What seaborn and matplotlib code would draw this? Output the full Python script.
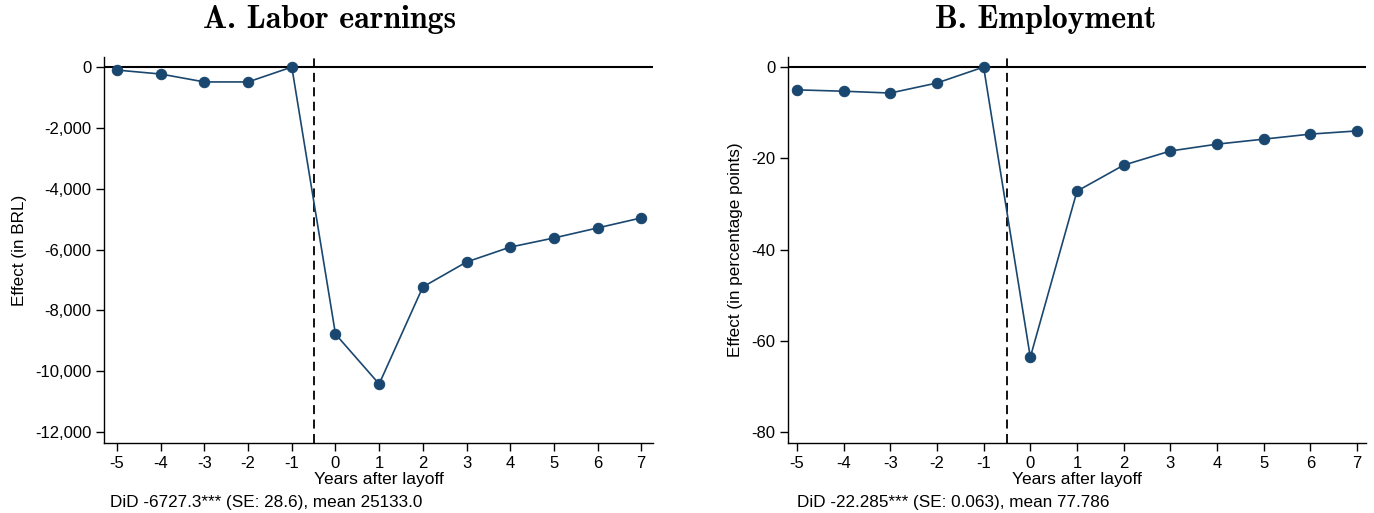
import numpy as np
import pandas as pd
import matplotlib
matplotlib.use("Agg")
import matplotlib.pyplot as plt
import matplotlib.ticker as mticker
import seaborn as sns

years = [-5, -4, -3, -2, -1, 0, 1, 2, 3, 4, 5, 6, 7]
earnings = [-100, -230, -490, -490, 0, -8780, -10420, -7230, -6410, -5920, -5620, -5290, -4960]
employment = [-5.0, -5.3, -5.7, -3.5, 0.0, -63.6, -27.2, -21.5, -18.4, -16.9, -15.8, -14.7, -14.0]

titles = ["A. Labor earnings", "B. Employment"]
ylabels = ["Effect (in BRL)", "Effect (in percentage points)"]
xlabel = "Years after layoff"
notes = ["DiD -6727.3*** (SE: 28.6), mean 25133.0",
         "DiD -22.285*** (SE: 0.063), mean 77.786"]
yticks_a = [0, -2000, -4000, -6000, -8000, -10000, -12000]
yticks_b = [0, -20, -40, -60, -80]

sns.set_theme(style="white")
plt.rcParams['font.family'] = ['Liberation Sans', 'DejaVu Sans']
plt.rcParams['axes.unicode_minus'] = False

color = "#1a476f"
W, H = 1374, 513
fig = plt.figure(figsize=(W/100, H/100), dpi=100)
ax1 = fig.add_axes([104/W, 1-443/H, (653-104)/W, (443-57)/H])
ax2 = fig.add_axes([788/W, 1-443/H, (1366-788)/W, (443-57)/H])

specs = [
    (ax1, earnings, yticks_a, (-12360, 330), (-5.3, 7.27), lambda v, p: f"{int(v):,}", 330, 110),
    (ax2, employment, yticks_b, (-82.4, 2.2), (-5.19, 7.19), lambda v, p: f"{int(v)}", 1046, 797),
]
for i, (ax, vals, yt, ylim, xlim, fmt, tx, nx) in enumerate(specs):
    df = pd.DataFrame({"year": years, "effect": vals})
    ax.axhline(0, color="black", lw=1.5, zorder=1)
    ax.axvline(-0.5, color="black", lw=1.3, ls=(0, (5, 3)), zorder=1)
    sns.lineplot(data=df, x="year", y="effect", ax=ax, color=color, lw=1.2,
                 marker="o", markersize=7.5, markeredgecolor=color, zorder=3)
    ax.set_xlim(*xlim)
    ax.set_ylim(*ylim)
    ax.set_xticks(years)
    ax.set_yticks(yt)
    ax.yaxis.set_major_formatter(mticker.FuncFormatter(fmt))
    for s in ["top", "right"]:
        ax.spines[s].set_visible(False)
    for s in ["left", "bottom"]:
        ax.spines[s].set_color("black")
        ax.spines[s].set_linewidth(1.0)
    ax.tick_params(axis="both", which="major", direction="out", length=6, width=1,
                   color="black", labelsize=12, labelcolor="black",
                   bottom=True, left=True, pad=3)
    ax.set_xlabel(xlabel, fontsize=12.5, labelpad=1, color="black")
    ax.set_ylabel(ylabels[i], fontsize=12.3, labelpad=6, color="black")
    fig.text(tx/W, 1-20/H, titles[i], fontsize=23, fontweight="bold",
             family=["cmb10", "DejaVu Serif"], ha="center", va="center", color="black")
    fig.text(nx/W, 1-503/H, notes[i], fontsize=12.3, ha="left", va="center", color="black")

fig.savefig("out.png", dpi=100, facecolor="white")
